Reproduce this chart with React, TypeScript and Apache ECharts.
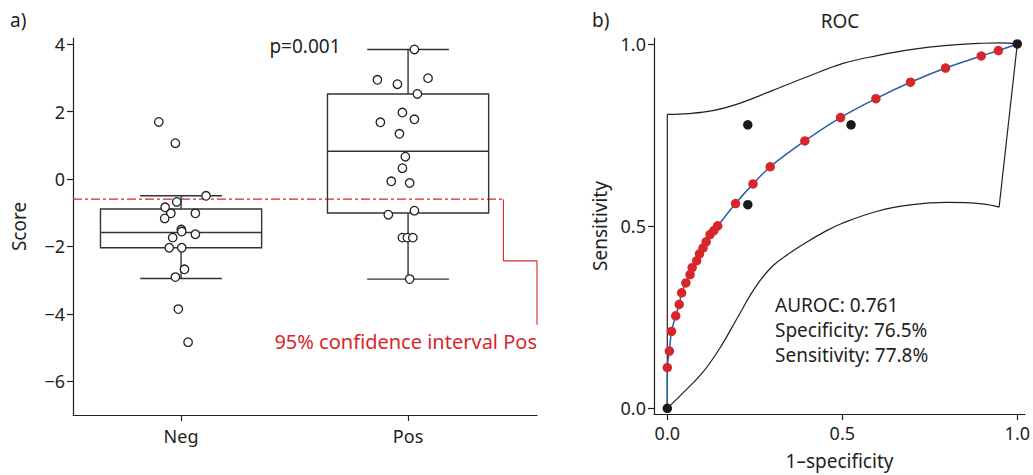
import React, { useEffect, useRef } from "react";
import * as echarts from "echarts";

// ---------- Panel a) data ----------
const categories = ["Neg", "Pos"];
const categoryPositions = [1, 2];
const scoreTicks = [-6, -4, -2, 0, 2, 4];
// [position, whiskerLow, q1, median, q3, whiskerHigh]
const negBox = [1, -2.95, -2.04, -1.59, -0.89, -0.5];
const posBox = [2, -2.97, -1.01, 0.82, 2.52, 3.84];
const negScores = [1.69, 1.06, -0.5, -0.68, -0.84, -1.02, -1.02, -1.17, -1.5, -1.56, -1.64, -1.74, -2.04, -2.04, -2.68, -2.91, -3.86, -4.84];
const negJitter = [-0.098, -0.025, 0.11, -0.019, -0.07, -0.045, 0.063, -0.072, 0.001, 0.003, 0.063, -0.037, -0.052, 0.003, 0.015, -0.025, -0.012, 0.031];
const posScores = [3.84, 2.94, 2.81, 2.99, 2.52, 1.97, 1.77, 1.68, 1.34, 0.66, 0.32, -0.07, -0.12, -0.94, -1.06, -1.74, -1.74, -1.74, -2.97];
const posJitter = [0.028, -0.135, -0.047, 0.088, 0.041, -0.025, 0.028, -0.122, -0.038, -0.012, -0.025, -0.074, 0.007, 0.028, -0.087, -0.025, -0.003, 0.021, 0.007];
const ciPosLower = -0.6;
const ciLineX = [0.524, 2.42];
const ciBracketX = [2.42, 2.42, 2.568, 2.568];
const ciBracketY = [-0.6, -2.43, -2.43, -4.32];
const pValueText = "p=0.001";
const ciLabel = "95% confidence interval Pos";

// ---------- Panel b) data ----------
const rocTicks = [0, 0.5, 1];
const redFpr = [0, 0.006, 0.012, 0.024, 0.034, 0.041, 0.053, 0.065, 0.071, 0.084, 0.092, 0.102, 0.111, 0.122, 0.133, 0.144, 0.195, 0.245, 0.294, 0.393, 0.495, 0.596, 0.695, 0.795, 0.897, 0.946];
const redTpr = [0.112, 0.157, 0.211, 0.254, 0.285, 0.317, 0.344, 0.367, 0.386, 0.405, 0.424, 0.44, 0.457, 0.477, 0.488, 0.501, 0.562, 0.616, 0.663, 0.734, 0.798, 0.85, 0.895, 0.934, 0.967, 0.982];
const blackFpr = [0, 0.23, 0.525, 0.23, 1];
const blackTpr = [0, 0.778, 0.778, 0.559, 1];
const bandLowerFpr = [0, 0.05, 0.1, 0.15, 0.2, 0.25, 0.3, 0.35, 0.4, 0.45, 0.5, 0.6, 0.7, 0.8, 0.9, 0.948];
const bandLowerTpr = [0, 0.047, 0.097, 0.165, 0.248, 0.33, 0.39, 0.426, 0.457, 0.485, 0.508, 0.541, 0.559, 0.565, 0.561, 0.552];
const bandUpperFpr = [1, 0.95, 0.9, 0.8, 0.7, 0.6, 0.5, 0.4, 0.3, 0.2, 0.13, 0.06, 0];
const bandUpperTpr = [1, 1.003, 1.002, 0.996, 0.985, 0.968, 0.946, 0.91, 0.872, 0.835, 0.817, 0.809, 0.807];
const statLines = ["AUROC: 0.761", "Specificity: 76.5%", "Sensitivity: 77.8%"];

const FONT = "Noto Sans";
const TXT = "#231f20";
const RED = "#d7262b";
const BLUE = "#2b5ca8";
const FS = 19;

const zip = (xs: number[], ys: number[]) => xs.map((x, i) => [x, ys[i]]);
const minus = (s: string) => s.replace("-", "\u2212");

export default function App() {
  const ref = useRef<HTMLDivElement>(null);
  useEffect(() => {
    document.body.style.margin = "0";
    const chart = echarts.init(ref.current!, null, { renderer: "svg" });
    const axisLine = { show: true, onZero: false, lineStyle: { color: TXT, width: 1.2 } };
    const axisTickBase = { show: true, length: 6, lineStyle: { color: TXT, width: 1.2 } };
    const label = { color: TXT, fontFamily: FONT, fontSize: 18 };
    const nameStyle = { color: TXT, fontFamily: FONT, fontSize: FS };

    const rocLine = [[0, 0], ...zip(redFpr, redTpr), [1, 1]];
    const bandStyle = { color: TXT, width: 1.2 };

    chart.setOption({
      animation: false,
      grid: [
        { left: 73, top: 38, width: 464, height: 377 },
        { left: 654, top: 38, width: 371, height: 377 },
      ],
      xAxis: [
        {
          type: "value", gridIndex: 0, min: 0.524, max: 2.568,
          axisLine, splitLine: { show: false },
          axisTick: { ...axisTickBase, customValues: categoryPositions },
          axisLabel: { ...label, margin: 12, customValues: categoryPositions,
            formatter: (v: number) => categories[categoryPositions.indexOf(v)] ?? "" },
        },
        {
          type: "value", gridIndex: 1, min: -0.038, max: 1.022,
          axisLine, splitLine: { show: false },
          axisTick: { ...axisTickBase, customValues: rocTicks },
          axisLabel: { ...label, margin: 10, customValues: rocTicks, formatter: (v: number) => v.toFixed(1) },
          name: "1\u2013specificity", nameLocation: "middle", nameGap: 37,
          nameTextStyle: nameStyle,
        },
      ],
      yAxis: [
        {
          type: "value", gridIndex: 0, min: -7, max: 4.18,
          axisLine, splitLine: { show: false },
          axisTick: { ...axisTickBase, customValues: scoreTicks },
          axisLabel: { ...label, margin: 8, customValues: scoreTicks, formatter: (v: number) => minus(String(v)) },
          name: "Score", nameLocation: "middle", nameGap: 45,
          nameTextStyle: nameStyle,
        },
        {
          type: "value", gridIndex: 1, min: -0.0156, max: 1.0164,
          axisLine, splitLine: { show: false },
          axisTick: { ...axisTickBase, customValues: rocTicks },
          axisLabel: { ...label, margin: 8, customValues: rocTicks, formatter: (v: number) => v.toFixed(1) },
          name: "Sensitivity", nameLocation: "middle", nameGap: 45,
          nameTextStyle: nameStyle,
        },
      ],
      series: [
        // CI dash-dot line
        {
          type: "line", xAxisIndex: 0, yAxisIndex: 0, symbol: "none", silent: true, clip: false,
          data: ciLineX.map((x) => [x, ciPosLower]),
          lineStyle: { color: RED, width: 1.2, type: [9, 3, 3, 3] }, z: 1,
        },
        {
          type: "line", xAxisIndex: 0, yAxisIndex: 0, symbol: "none", silent: true, clip: false,
          data: zip(ciBracketX, ciBracketY),
          lineStyle: { color: RED, width: 1.1 }, z: 1,
        },
        // Boxes
        {
          type: "custom", xAxisIndex: 0, yAxisIndex: 0, z: 2,
          data: [negBox, posBox],
          encode: { x: 0, y: [1, 2, 3, 4, 5] },
          renderItem: (_p: any, api: any) => {
            const x = api.value(0);
            const lo = api.value(1), q1 = api.value(2), med = api.value(3), q3 = api.value(4), hi = api.value(5);
            const half = 0.355, cap = 0.18;
            const c = (xx: number, yy: number) => api.coord([xx, yy]);
            const st = { stroke: "#333333", lineWidth: 1.4, fill: null };
            const [xl, yq3] = c(x - half, q3);
            const [xr, yq1] = c(x + half, q1);
            const [, ym] = c(x, med);
            const [xc, ylo] = c(x, lo);
            const [, yhi] = c(x, hi);
            const [cl] = c(x - cap, lo);
            const [cr] = c(x + cap, lo);
            return {
              type: "group",
              children: [
                { type: "rect", shape: { x: xl, y: yq3, width: xr - xl, height: yq1 - yq3 }, style: st },
                { type: "line", shape: { x1: xl, y1: ym, x2: xr, y2: ym }, style: st },
                { type: "line", shape: { x1: xc, y1: yq3, x2: xc, y2: yhi }, style: st },
                { type: "line", shape: { x1: xc, y1: yq1, x2: xc, y2: ylo }, style: st },
                { type: "line", shape: { x1: cl, y1: yhi, x2: cr, y2: yhi }, style: st },
                { type: "line", shape: { x1: cl, y1: ylo, x2: cr, y2: ylo }, style: st },
              ],
            };
          },
        },
        // Points
        {
          type: "scatter", xAxisIndex: 0, yAxisIndex: 0, z: 3, symbol: "circle", symbolSize: 8.5,
          data: negScores.map((v, i) => [categoryPositions[0] + negJitter[i], v]),
          itemStyle: { color: "#fff", borderColor: TXT, borderWidth: 1.3, opacity: 1 },
        },
        {
          type: "scatter", xAxisIndex: 0, yAxisIndex: 0, z: 3, symbol: "circle", symbolSize: 8.5,
          data: posScores.map((v, i) => [categoryPositions[1] + posJitter[i], v]),
          itemStyle: { color: "#fff", borderColor: TXT, borderWidth: 1.3, opacity: 1 },
        },
        // ROC band
        {
          type: "line", xAxisIndex: 1, yAxisIndex: 1, symbol: "none", smooth: 0.4, clip: false,
          data: zip(bandLowerFpr, bandLowerTpr), lineStyle: bandStyle, z: 1,
        },
        {
          type: "line", xAxisIndex: 1, yAxisIndex: 1, symbol: "none", clip: false,
          data: [[bandLowerFpr[bandLowerFpr.length - 1], bandLowerTpr[bandLowerTpr.length - 1]], [bandUpperFpr[0], bandUpperTpr[0]]],
          lineStyle: bandStyle, z: 1,
        },
        {
          type: "line", xAxisIndex: 1, yAxisIndex: 1, symbol: "none", smooth: 0.4, clip: false,
          data: zip(bandUpperFpr, bandUpperTpr), lineStyle: bandStyle, z: 1,
        },
        {
          type: "line", xAxisIndex: 1, yAxisIndex: 1, symbol: "none", clip: false,
          data: [[bandUpperFpr[bandUpperFpr.length - 1], bandUpperTpr[bandUpperTpr.length - 1]], [bandLowerFpr[0], bandLowerTpr[0]]],
          lineStyle: bandStyle, z: 1,
        },
        // ROC curve
        {
          type: "line", xAxisIndex: 1, yAxisIndex: 1, symbol: "none", smooth: 0.3,
          data: rocLine, lineStyle: { color: BLUE, width: 1.5 }, z: 2,
        },
        {
          type: "scatter", xAxisIndex: 1, yAxisIndex: 1, symbolSize: 9.5, z: 3,
          data: zip(redFpr, redTpr), itemStyle: { color: RED, opacity: 1 },
        },
        {
          type: "scatter", xAxisIndex: 1, yAxisIndex: 1, symbolSize: 9.5, z: 4, clip: false,
          data: zip(blackFpr, blackTpr), itemStyle: { color: "#1c1a1b", opacity: 1 },
        },
      ],
      graphic: [
        { type: "text", x: 10, y: 20, style: { text: "a)", font: `${FS}px '${FONT}'`, fill: TXT, verticalAlign: "middle" } },
        { type: "text", x: 592, y: 20, style: { text: "b)", font: `${FS}px '${FONT}'`, fill: TXT, verticalAlign: "middle" } },
        { type: "text", x: 840, y: 21, style: { text: "ROC", font: `${FS}px '${FONT}'`, fill: TXT, align: "center", verticalAlign: "middle" } },
        { type: "text", x: 305, y: 46, style: { text: pValueText, font: `${FS}px '${FONT}'`, fill: TXT, align: "center", verticalAlign: "middle" } },
        { type: "text", x: 537, y: 341, style: { text: ciLabel, font: `20px '${FONT}'`, fill: RED, align: "right", verticalAlign: "middle" } },
        ...statLines.map((t, i) => ({
          type: "text", x: 775, y: 305 + i * 25,
          style: { text: t, font: `${FS}px '${FONT}'`, fill: TXT, verticalAlign: "middle" },
        })),
      ],
    });
    return () => chart.dispose();
  }, []);
  return <div ref={ref} style={{ width: 1033, height: 475 }} />;
}
